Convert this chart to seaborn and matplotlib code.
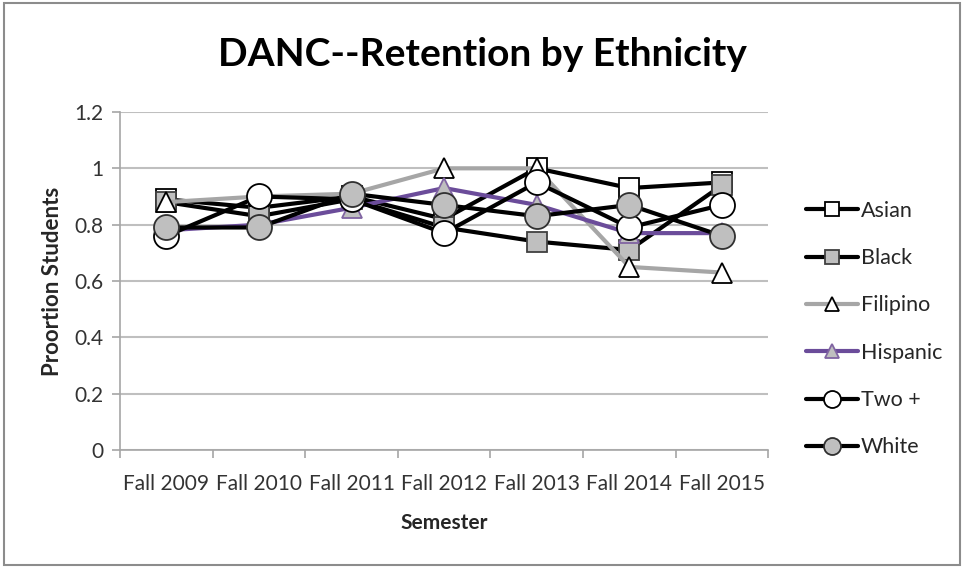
import matplotlib
matplotlib.use("Agg")
import matplotlib.pyplot as plt
import seaborn as sns
from matplotlib.patches import Rectangle

semesters = ["Fall 2009", "Fall 2010", "Fall 2011", "Fall 2012", "Fall 2013", "Fall 2014", "Fall 2015"]
asian = [0.89, 0.86, 0.90, 0.82, 1.00, 0.93, 0.95]
black = [0.88, 0.83, 0.89, 0.79, 0.74, 0.71, 0.94]
filipino = [0.88, 0.90, 0.91, 1.00, 1.00, 0.65, 0.63]
hispanic = [0.78, 0.80, 0.86, 0.93, 0.87, 0.77, 0.77]
two_plus = [0.76, 0.90, 0.89, 0.77, 0.95, 0.79, 0.87]
white = [0.79, 0.79, 0.91, 0.87, 0.83, 0.87, 0.76]

sns.set_theme(style="white")
plt.rcParams["font.family"] = ["Lato", "DejaVu Sans"]

fig = plt.figure(figsize=(9.64, 5.67), dpi=100)
ax = fig.add_axes([0.1245, 0.2063, 0.6725, 0.5962])

series = [
    ("Asian", asian, dict(color="black", marker="s", markersize=14, markerfacecolor="white", markeredgecolor="black")),
    ("Black", black, dict(color="black", marker="s", markersize=14, markerfacecolor="#bfbfbf", markeredgecolor="#404040")),
    ("Filipino", filipino, dict(color="#a6a6a6", marker="^", markersize=15, markerfacecolor="white", markeredgecolor="black")),
    ("Hispanic", hispanic, dict(color="#6b4c9a", marker="^", markersize=15, markerfacecolor="#bfbfbf", markeredgecolor="#8064a2")),
    ("Two +", two_plus, dict(color="black", marker="o", markersize=18, markerfacecolor="white", markeredgecolor="black")),
    ("White", white, dict(color="black", marker="o", markersize=18, markerfacecolor="#bfbfbf", markeredgecolor="#303030")),
]

handles = []
for name, vals, style in series:
    sns.lineplot(x=semesters, y=vals, ax=ax, linewidth=3, markeredgewidth=1.3,
                 legend=False, **style)
    h, = ax.plot([], [], linewidth=3, markeredgewidth=1.3,
                 **{**style, "markersize": style["markersize"] * 0.68})
    handles.append(h)

ax.set_xlim(-0.5, len(semesters) - 0.5)
ax.set_ylim(0, 1.2)
ax.set_yticks([0, 0.2, 0.4, 0.6, 0.8, 1.0, 1.2])
ax.set_yticklabels(["0", "0.2", "0.4", "0.6", "0.8", "1", "1.2"])
ax.set_xticks(range(len(semesters)))
ax.set_xticklabels(semesters)
ax.set_xticks([i - 0.5 for i in range(len(semesters) + 1)], minor=True)

ax.yaxis.grid(True, color="#bfbfbf", linewidth=1.5)
ax.xaxis.grid(False)
for side in ("top", "right"):
    ax.spines[side].set_visible(False)
for side in ("left", "bottom"):
    ax.spines[side].set_color("#a6a6a6")
    ax.spines[side].set_linewidth(1.2)

ax.tick_params(axis="x", which="major", length=0, pad=17, labelsize=15, labelcolor="#333333")
ax.tick_params(axis="x", which="minor", length=6, color="#a6a6a6", width=1.2, direction="out", bottom=True)
ax.tick_params(axis="y", which="major", length=6, color="#a6a6a6", width=1.2, direction="out", left=True,
               labelsize=15, labelcolor="#333333", pad=6)

ax.set_xlabel("Semester", fontsize=15, fontweight="bold", labelpad=14)
ax.set_ylabel("Proortion Students", fontsize=16, fontweight="bold", labelpad=8)

fig.text(0.5, 0.903, "DANC--Retention by Ethnicity", ha="center", va="center",
         fontsize=28, fontweight="bold", color="black")

fig.legend(handles, [s[0] for s in series], loc="upper left", bbox_to_anchor=(0.825, 0.665),
           frameon=False, fontsize=15.5, handlelength=2.4, handletextpad=0.15,
           labelspacing=1.27, borderpad=0)

fig.patches.append(Rectangle((0.004, 0.004), 0.992, 0.99, transform=fig.transFigure,
                             fill=False, edgecolor="#8c8c8c", linewidth=1.5))

fig.savefig("out.png", dpi=100, facecolor="white")
